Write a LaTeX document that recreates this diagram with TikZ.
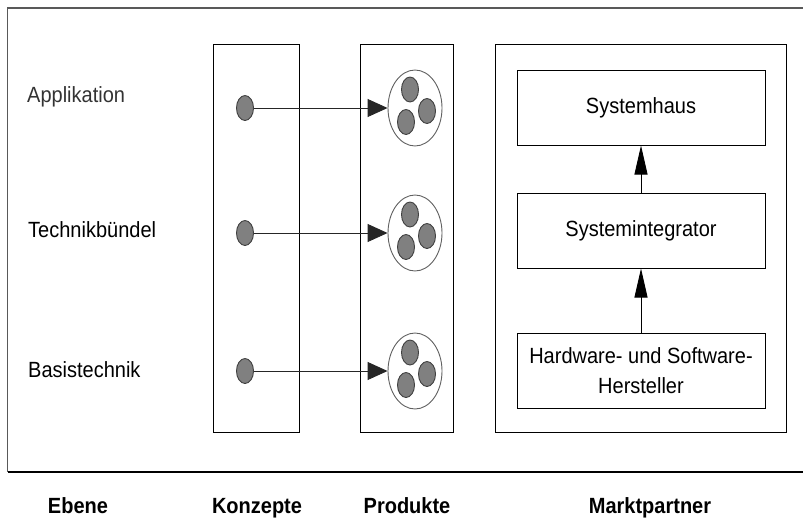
\documentclass[tikz,border=0pt]{standalone}
\usepackage{fontspec}
\setmainfont{Liberation Sans}
\usetikzlibrary{arrows.meta,shapes.geometric}
\definecolor{dotfill}{HTML}{808080}
\definecolor{dotline}{HTML}{404040}
\definecolor{ringline}{HTML}{606060}
\definecolor{labelgray}{HTML}{333333}
% slightly tall lettering
\newcommand\tallt[1]{\scalebox{1}[1.1]{#1}}
\begin{document}
\begin{tikzpicture}[x=1pt,y=-1pt,
  txt/.style={font=\fontsize{20}{30}\selectfont, inner sep=0pt},
  head/.style={font=\bfseries\fontsize{20}{24}\selectfont, inner sep=0pt, anchor=base},
  column/.style={draw=black, line width=1pt, anchor=north west, inner sep=0pt},
  partner/.style={draw=black, line width=1pt, minimum width=248pt, minimum height=75pt,
    inner sep=0pt, align=center, font=\fontsize{20}{30}\selectfont},
  dot/.style={ellipse, draw=dotline, fill=dotfill, line width=0.9pt,
    minimum width=17pt, minimum height=25pt, inner sep=0pt},
  ring/.style={ellipse, draw=ringline, fill=white, line width=0.9pt,
    minimum width=54pt, minimum height=76pt, inner sep=0pt},
  link/.style={draw=black!85, line width=0.9pt, -{Triangle[length=20pt,width=18pt]}},
  uplink/.style={draw=black, line width=0.9pt, -{Triangle[length=29pt,width=13pt]}},
]
\useasboundingbox (0,0) rectangle (803,520);

% outer frame (open on the right)
\draw[gray!70!black, line width=1.4pt] (803,8) -- (7.5,8) -- (7.5,472);
\draw[black, line width=1.2pt] (7.5,472) -- (803,472);

% columns
\node[column, minimum width=86pt, minimum height=388pt] (konz) at (213,44) {};
\node[column, minimum width=93pt, minimum height=388pt] (prod) at (360,44) {};
\node[column, minimum width=291pt, minimum height=388pt] (markt) at (495,44) {};

% level labels
\node[txt, anchor=base west, text=labelgray] (lApp) at (27,102) {\tallt{Applikation}};
\node[txt, anchor=base west] (lTech) at (28,237) {\tallt{Technikbündel}};
\node[txt, anchor=base west] (lBasis) at (28,377) {\tallt{Basistechnik}};

% concepts and products per level
\foreach \i/\y in {1/108, 2/233, 3/371} {
  \node[dot] (k\i) at (245,\y) {};
  \node[ring] (p\i) at (415,\y) {};
  \node[dot] (p\i a) at (410,\y-18.5) {};
  \node[dot] (p\i b) at (427,\y+3) {};
  \node[dot] (p\i c) at (406,\y+14) {};
  \draw[link] (k\i.east) -- (p\i.west);
}

% market partners
\node[partner] (haus) at (641,107.5) {\tallt{Systemhaus}};
\node[partner] (integ) at (641,230.5) {\tallt{Systemintegrator}};
\node[partner] (hw) at (641,370.5) {\tallt{Hardware- und Software-}\\\tallt{Hersteller}};
\draw[uplink] (hw.north) -- (integ.south);
\draw[uplink] (integ.north) -- (haus.south);

% column headings
\node[head] (hEbene) at (78,513) {\tallt{Ebene}};
\node[head] (hKonz) at (257,513) {\tallt{Konzepte}};
\node[head] (hProd) at (407,513) {\tallt{Produkte}};
\node[head] (hMarkt) at (650,513) {\tallt{Marktpartner}};
\end{tikzpicture}
\end{document}
